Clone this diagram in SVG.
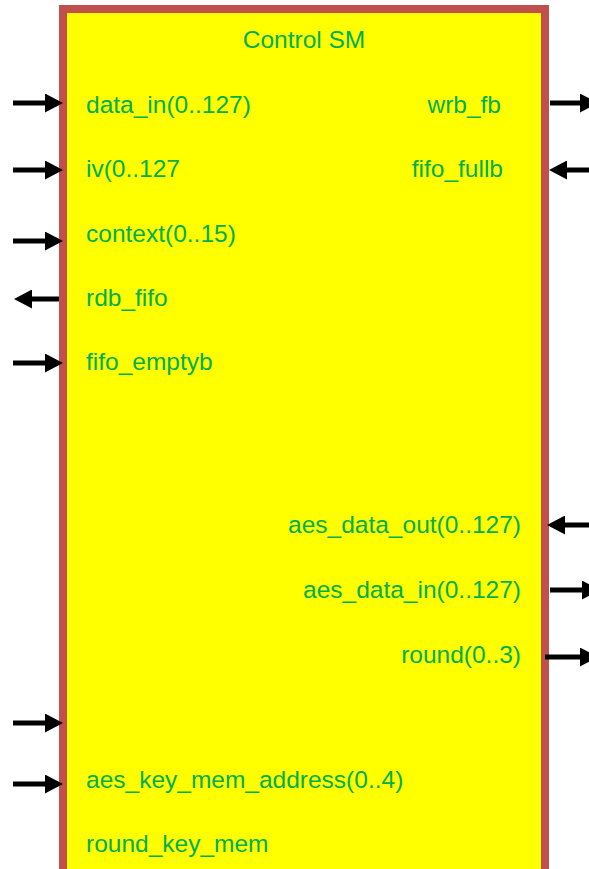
<svg xmlns="http://www.w3.org/2000/svg" width="589" height="869" viewBox="0 0 589 869">
<style>
.lbl{font-family:"Liberation Sans",Arial,sans-serif;font-size:24.5px;fill:#00B050}
.r{text-anchor:end}
.c{text-anchor:middle}
.wire{stroke:#000;stroke-width:5;fill:none}
</style>
<defs>
<marker id="ah" viewBox="0 0 18 19" refX="0" refY="9.5" markerWidth="18" markerHeight="19" markerUnits="userSpaceOnUse" orient="auto">
<path d="M0,0 L18,9.5 L0,19 Z" fill="#000"/>
</marker>
</defs>
<rect width="589" height="869" fill="#fff"/>
<g id="control-sm">
<rect x="63" y="9" width="482" height="864" fill="#FFFF00" stroke="#C0504D" stroke-width="8"/>
<text class="lbl c" x="304" y="48">Control SM</text>
<text class="lbl" x="86" y="113">data_in(0..127)</text>
<text class="lbl" x="86" y="177">iv(0..127</text>
<text class="lbl" x="86" y="242">context(0..15)</text>
<text class="lbl" x="86" y="306">rdb_fifo</text>
<text class="lbl" x="86" y="370">fifo_emptyb</text>
<text class="lbl r" x="501" y="113">wrb_fb</text>
<text class="lbl r" x="503" y="177">fifo_fullb</text>
<text class="lbl r" x="521" y="533">aes_data_out(0..127)</text>
<text class="lbl r" x="521" y="598">aes_data_in(0..127)</text>
<text class="lbl r" x="521" y="663">round(0..3)</text>
<text class="lbl" x="86" y="788">aes_key_mem_address(0..4)</text>
<text class="lbl" x="86" y="852">round_key_mem</text>
</g>
<g id="connectors">
<line class="wire" x1="13" y1="103" x2="45" y2="103" marker-end="url(#ah)"/>
<line class="wire" x1="13" y1="170" x2="45" y2="170" marker-end="url(#ah)"/>
<line class="wire" x1="13" y1="241" x2="45" y2="241" marker-end="url(#ah)"/>
<line class="wire" x1="59" y1="299" x2="32" y2="299" marker-end="url(#ah)"/>
<line class="wire" x1="13" y1="363" x2="45" y2="363" marker-end="url(#ah)"/>
<line class="wire" x1="13" y1="723" x2="45" y2="723" marker-end="url(#ah)"/>
<line class="wire" x1="13" y1="784" x2="45" y2="784" marker-end="url(#ah)"/>
<line class="wire" x1="550" y1="103" x2="580" y2="103" marker-end="url(#ah)"/>
<line class="wire" x1="589" y1="170" x2="567" y2="170" marker-end="url(#ah)"/>
<line class="wire" x1="589" y1="525" x2="565" y2="525" marker-end="url(#ah)"/>
<line class="wire" x1="550" y1="590" x2="582" y2="590" marker-end="url(#ah)"/>
<line class="wire" x1="545" y1="657" x2="580" y2="657" marker-end="url(#ah)"/>
</g>
</svg>
